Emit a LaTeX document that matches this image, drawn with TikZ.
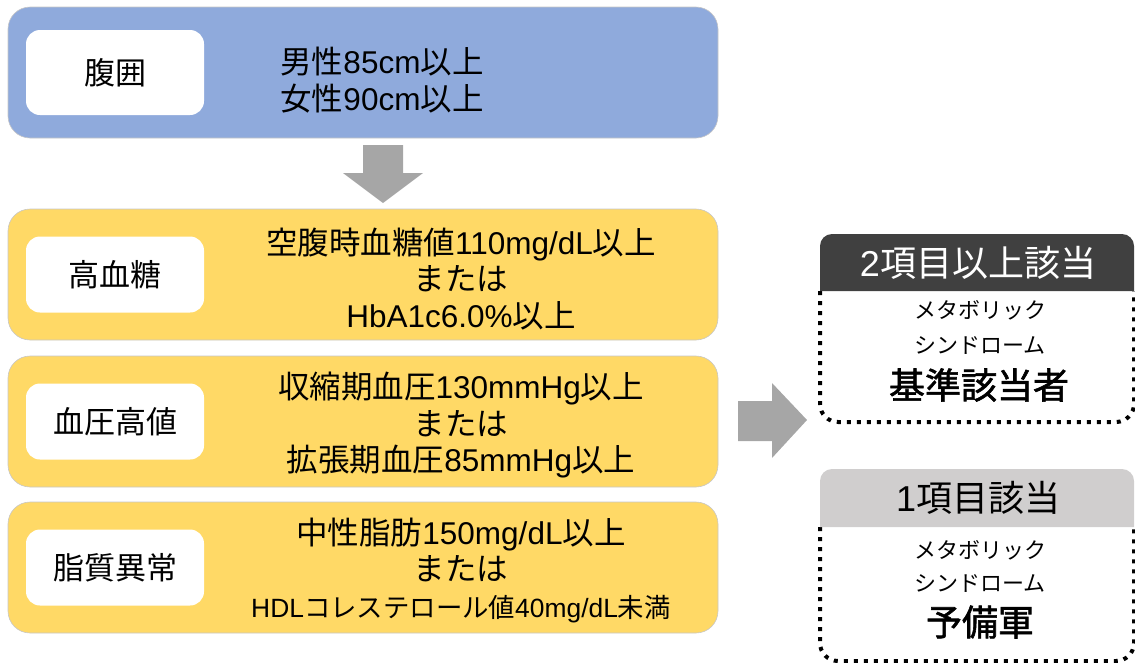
\documentclass[tikz,border=0pt]{standalone}
\usepackage{fontspec}
\setmainfont{Noto Sans CJK JP}
\newfontfamily\latfont{Liberation Sans}
\newfontfamily\semibold[FakeBold=1.6]{Noto Sans CJK JP}
\newcommand\la[1]{{\latfont #1}}
\newcommand\fs[2]{\fontsize{#1pt}{#2pt}\selectfont}
\definecolor{waistblue}{HTML}{8FAADC}
\definecolor{condyellow}{HTML}{FFD966}
\definecolor{arrowgray}{HTML}{A6A6A6}
\definecolor{hdrdark}{HTML}{404040}
\definecolor{hdrlight}{HTML}{D0CECE}
\tikzset{
  bigbox/.style={draw=black!22, line width=0.6pt, rounded corners=22pt,
    minimum width=710pt, minimum height=131pt, inner sep=0pt},
  labbox/.style={fill=white, rounded corners=14pt, minimum width=178pt,
    minimum height=76pt, inner sep=0pt, font=\fs{31}{36}},
  condtext/.style={align=center, inner sep=0pt, font=\fs{31.5}{36.5}},
  blockarrow/.style={fill=arrowgray},
  dotborder/.style={line width=4pt, dash pattern=on 4pt off 6pt, rounded corners=18pt},
  hdrtext/.style={inner sep=0pt, font=\fs{36}{40}},
  smalltext/.style={inner sep=0pt, font=\fs{22}{26}},
  bigtext/.style={inner sep=0pt, font=\fs{36}{40}\semibold},
}
\begin{document}
\begin{tikzpicture}[x=1pt,y=-1pt]
\useasboundingbox (0,0) rectangle (1135,662);

% waist box
\node[bigbox, fill=waistblue] (waist) at (363,72.5) {};
\node[labbox, minimum height=85pt] (waistlab) at (115,72.5) {腹囲};
\node[condtext] (waisttxt) at (382,80) {男性\la{85cm}以上\\女性\la{90cm}以上};

% down arrow
\fill[blockarrow] (363,145) -- (403,145) -- (403,173) -- (423,173) -- (383,203)
  -- (343,173) -- (363,173) -- cycle;

% condition boxes
\node[bigbox, fill=condyellow] (glu) at (363,274.5) {};
\node[labbox] (glulab) at (115,274.5) {高血糖};
\node[condtext] (glutxt) at (461,279) {空腹時血糖値\la{110mg/dL}以上\\または\\\la{HbA1c6.0\%}以上};

\node[bigbox, fill=condyellow] (bp) at (363,421.5) {};
\node[labbox] (bplab) at (115,421.5) {血圧高値};
\node[condtext] (bptxt) at (461,425) {収縮期血圧\la{130mmHg}以上\\または\\拡張期血圧\la{85mmHg}以上};

\node[bigbox, fill=condyellow] (lip) at (363,567.5) {};
\node[labbox] (liplab) at (115,567.5) {脂質異常};
\node[condtext] (liptxt) at (461,570) {中性脂肪\la{150mg/dL}以上\\または\\{\fs{26.4}{30}\la{HDL}コレステロール値\la{40mg/dL}未満}};

% right arrow
\fill[blockarrow] (738,401) -- (772,401) -- (772,383) -- (807,420) -- (772,458)
  -- (772,441) -- (738,441) -- cycle;

% result box A
\draw[dotborder] (820,291) -- (820,422) -- (1134,422) -- (1134,291);
\fill[hdrdark] (820,291) [rounded corners=12pt] -- (820,234) -- (1134,234)
  [sharp corners] -- (1134,291) -- cycle;
\node[hdrtext, text=white] (hdrA) at (978,263) {\la{2}項目以上該当};
\node[smalltext] (metaA) at (980,310) {メタボリック};
\node[smalltext] (syndA) at (980,345) {シンドローム};
\node[bigtext] (resA) at (979,385) {基準該当者};

% result box B
\draw[dotborder] (820,527) -- (820,661) -- (1134,661) -- (1134,527);
\fill[hdrlight] (820,527) [rounded corners=12pt] -- (820,469) -- (1134,469)
  [sharp corners] -- (1134,527) -- cycle;
\node[hdrtext] (hdrB) at (978,498) {\la{1}項目該当};
\node[smalltext] (metaB) at (980,550) {メタボリック};
\node[smalltext] (syndB) at (980,583) {シンドローム};
\node[bigtext] (resB) at (980,622) {予備軍};
\end{tikzpicture}
\end{document}
